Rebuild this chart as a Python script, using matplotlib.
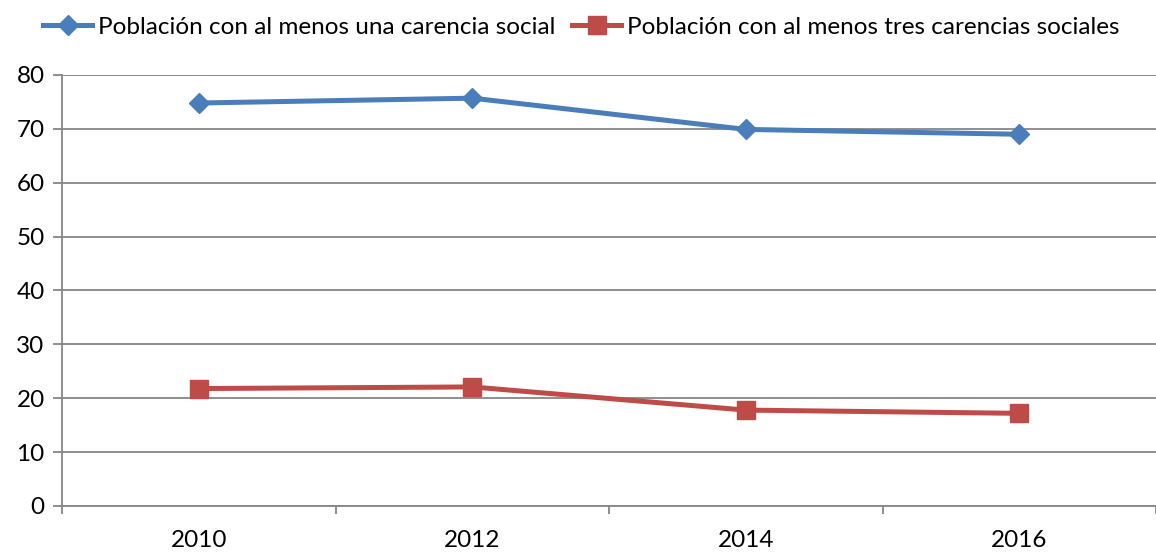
import numpy as np
import matplotlib.pyplot as plt
from matplotlib.ticker import FixedLocator

# data
years = ['2010', '2012', '2014', '2016']
una_carencia = [74.8, 75.7, 69.9, 69.0]
tres_carencias = [21.8, 22.1, 17.8, 17.2]
y_ticks = [0, 10, 20, 30, 40, 50, 60, 70, 80]

plt.rcParams['font.family'] = ['Lato', 'DejaVu Sans']
grey = '#868686'
fs = 17.5

fig = plt.figure(figsize=(11.56, 5.52), dpi=100)
ax = fig.add_axes([62/1156, 1-506/552, 1-62/1156, (506-75)/552])

x = np.arange(len(years))
ax.plot(x, una_carencia, color='#4a7ebb', lw=3.6, marker='D', ms=10,
        label='Población con al menos una carencia social', zorder=3)
ax.plot(x, tres_carencias, color='#be4b48', lw=3.6, marker='s', ms=13.5,
        label='Población con al menos tres carencias sociales', zorder=3)

ax.set_xlim(-0.5, 3.5)
ax.set_ylim(0, 80)
ax.set_yticks(y_ticks)
ax.yaxis.grid(True, color=grey, lw=1.3)
ax.set_axisbelow(True)

# category labels centred, tick marks on the boundaries
ax.set_xticks(x)
ax.set_xticklabels(years)
ax.xaxis.set_minor_locator(FixedLocator(np.arange(-0.5, 4.0, 1.0)))
ax.tick_params(axis='x', which='major', length=0, labelsize=fs, pad=17)
ax.tick_params(axis='x', which='minor', length=6, width=1.3, color=grey)
ax.tick_params(axis='y', length=6.5, width=1.3, color=grey, labelsize=fs, pad=6)

for s in ['top', 'right']:
    ax.spines[s].set_visible(False)
for s in ['left', 'bottom']:
    ax.spines[s].set_color(grey)
    ax.spines[s].set_linewidth(1.3)

fig.legend(loc='center', bbox_to_anchor=(0.503, 0.951), ncol=2, frameon=False,
           fontsize=fs, handlelength=2.0, handletextpad=0.25, columnspacing=0.7)

plt.savefig('out.png', dpi=100)
